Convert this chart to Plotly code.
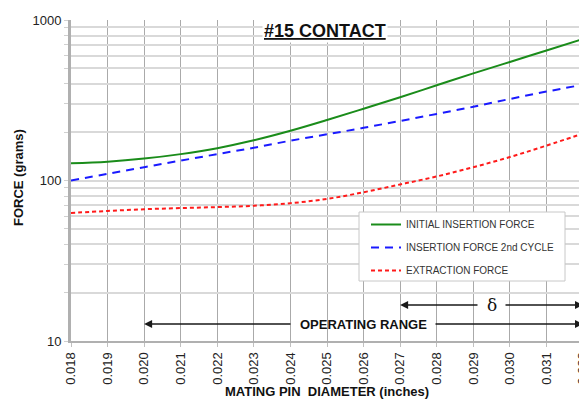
import plotly.graph_objects as go

diameter = [0.018, 0.019, 0.020, 0.021, 0.022, 0.023, 0.024, 0.025,
            0.026, 0.027, 0.028, 0.029, 0.030, 0.031, 0.032]
initial_insertion = [128, 131, 137, 146, 159, 178, 204, 238,
                     280, 330, 392, 465, 548, 645, 762]
insertion_2nd = [100, 110, 121, 133, 146, 160, 177, 194,
                 213, 235, 260, 288, 322, 358, 395]
extraction = [62.8, 64.6, 66.2, 67.3, 68.3, 69.6, 72.2, 76.8,
              84.5, 94.5, 106, 121, 140, 165, 196]

x_ticks = [round(0.018 + 0.001 * i, 3) for i in range(15)]
y_grid = [m * 10 ** e for e in (1, 2) for m in range(1, 10)] + [1000]
y_labels = {10: "10", 100: "100", 1000: "1000"}

fig = go.Figure()
fig.add_trace(go.Scatter(x=diameter, y=initial_insertion, mode="lines",
                         name="INITIAL INSERTION FORCE", legendgroup="a",
                         line=dict(color="#1a8c1a", width=2, shape="spline")))
fig.add_trace(go.Scatter(x=diameter, y=insertion_2nd, mode="lines",
                         name="INSERTION FORCE 2nd CYCLE", legendgroup="b",
                         line=dict(color="#1a1aff", width=2, dash="8px,6px", shape="spline")))
fig.add_trace(go.Scatter(x=diameter, y=extraction, mode="lines",
                         name="EXTRACTION FORCE", legendgroup="c",
                         line=dict(color="#ff1a1a", width=2, dash="4px,3px", shape="spline")))

# screen-pixel helpers (plot area on screen: x 71..583, y 20..341)
def pxp(p):
    return (p - 71) / 512

def pyp(p):
    return (341 - p) / 321

def px2x(p):
    return 0.018 + (p - 71) / 512 * 0.014

def py2y(p):
    return 3 - (p - 20) / 160.5

# legend box
fig.add_shape(type="rect", xref="paper", yref="paper",
              x0=pxp(359), x1=pxp(565), y0=pyp(281), y1=pyp(212),
              fillcolor="white", line=dict(color="#c8c8c8", width=1), layer="above")

arrow = dict(showarrow=True, arrowhead=2, arrowsize=1, arrowwidth=1.6,
             arrowcolor="#1a1a1a", axref="x", ayref="y", text="")
y_op = py2y(324)
y_d = py2y(305)
fig.add_annotation(x=0.020, y=y_op, ax=px2x(292), ay=y_op, **arrow)
fig.add_annotation(x=0.032, y=y_op, ax=px2x(434), ay=y_op, **arrow)
fig.add_annotation(x=0.027, y=y_d, ax=px2x(479), ay=y_d, **arrow)
fig.add_annotation(x=0.032, y=y_d, ax=px2x(504), ay=y_d, **arrow)
center = dict(showarrow=False, xanchor="center", yanchor="middle")
fig.add_annotation(x=px2x(363), y=y_op, text="<b>OPERATING RANGE</b>",
                   font=dict(family="Arial", size=13, color="#111"), **center)
fig.add_annotation(x=px2x(492), y=y_d, text="δ",
                   font=dict(family="DejaVu Serif", size=17, color="#111"), **center)
fig.add_annotation(x=pxp(325), xref="paper", y=pyp(31), yref="paper",
                   text="<b><u>#15 CONTACT</u></b>", bgcolor="white",
                   font=dict(family="Arial", size=18, color="#111"), **center)
# axis titles
fig.add_annotation(x=pxp(327), xref="paper", y=pyp(392), yref="paper",
                   text="<b>MATING PIN\u00a0\u00a0DIAMETER (inches)</b>",
                   font=dict(family="Arial", size=13, color="#111"), **center)
fig.add_annotation(x=pxp(18), xref="paper", y=pyp(178), yref="paper",
                   text="<b>FORCE (grams)</b>", textangle=-90,
                   font=dict(family="Arial", size=13, color="#111"), **center)

fig.update_layout(
    width=587, height=401,
    margin=dict(l=63, r=12, t=12, b=68, autoexpand=False),
    paper_bgcolor="white", plot_bgcolor="white",
    font=dict(family="Arial", size=13, color="#222"),
    legend=dict(x=pxp(366), y=pyp(210), xanchor="left", yanchor="top",
                bgcolor="rgba(0,0,0,0)", borderwidth=0, tracegroupgap=4,
                font=dict(family="Arial", size=10, color="#333")),
    xaxis=dict(range=[0.018, 0.032], tickvals=x_ticks, tickformat=".3f", tickangle=-90,
               showgrid=True, gridcolor="#aaaaaa", gridwidth=1, automargin=False,
               showline=True, linecolor="#b0b0b0", linewidth=2, mirror=False,
               ticks="outside", ticklen=4, tickcolor="#c0c0c0", zeroline=False),
    yaxis=dict(type="log", range=[1, 3], tickvals=y_grid, automargin=False,
               ticktext=[y_labels.get(v, "") for v in y_grid],
               showgrid=True, gridcolor="#d9d9d9", gridwidth=2,
               showline=True, linecolor="#b0b0b0", linewidth=3,
               ticks="outside", ticklen=4, tickcolor="#d0d0d0"),
)
fig.write_html("out.html")
